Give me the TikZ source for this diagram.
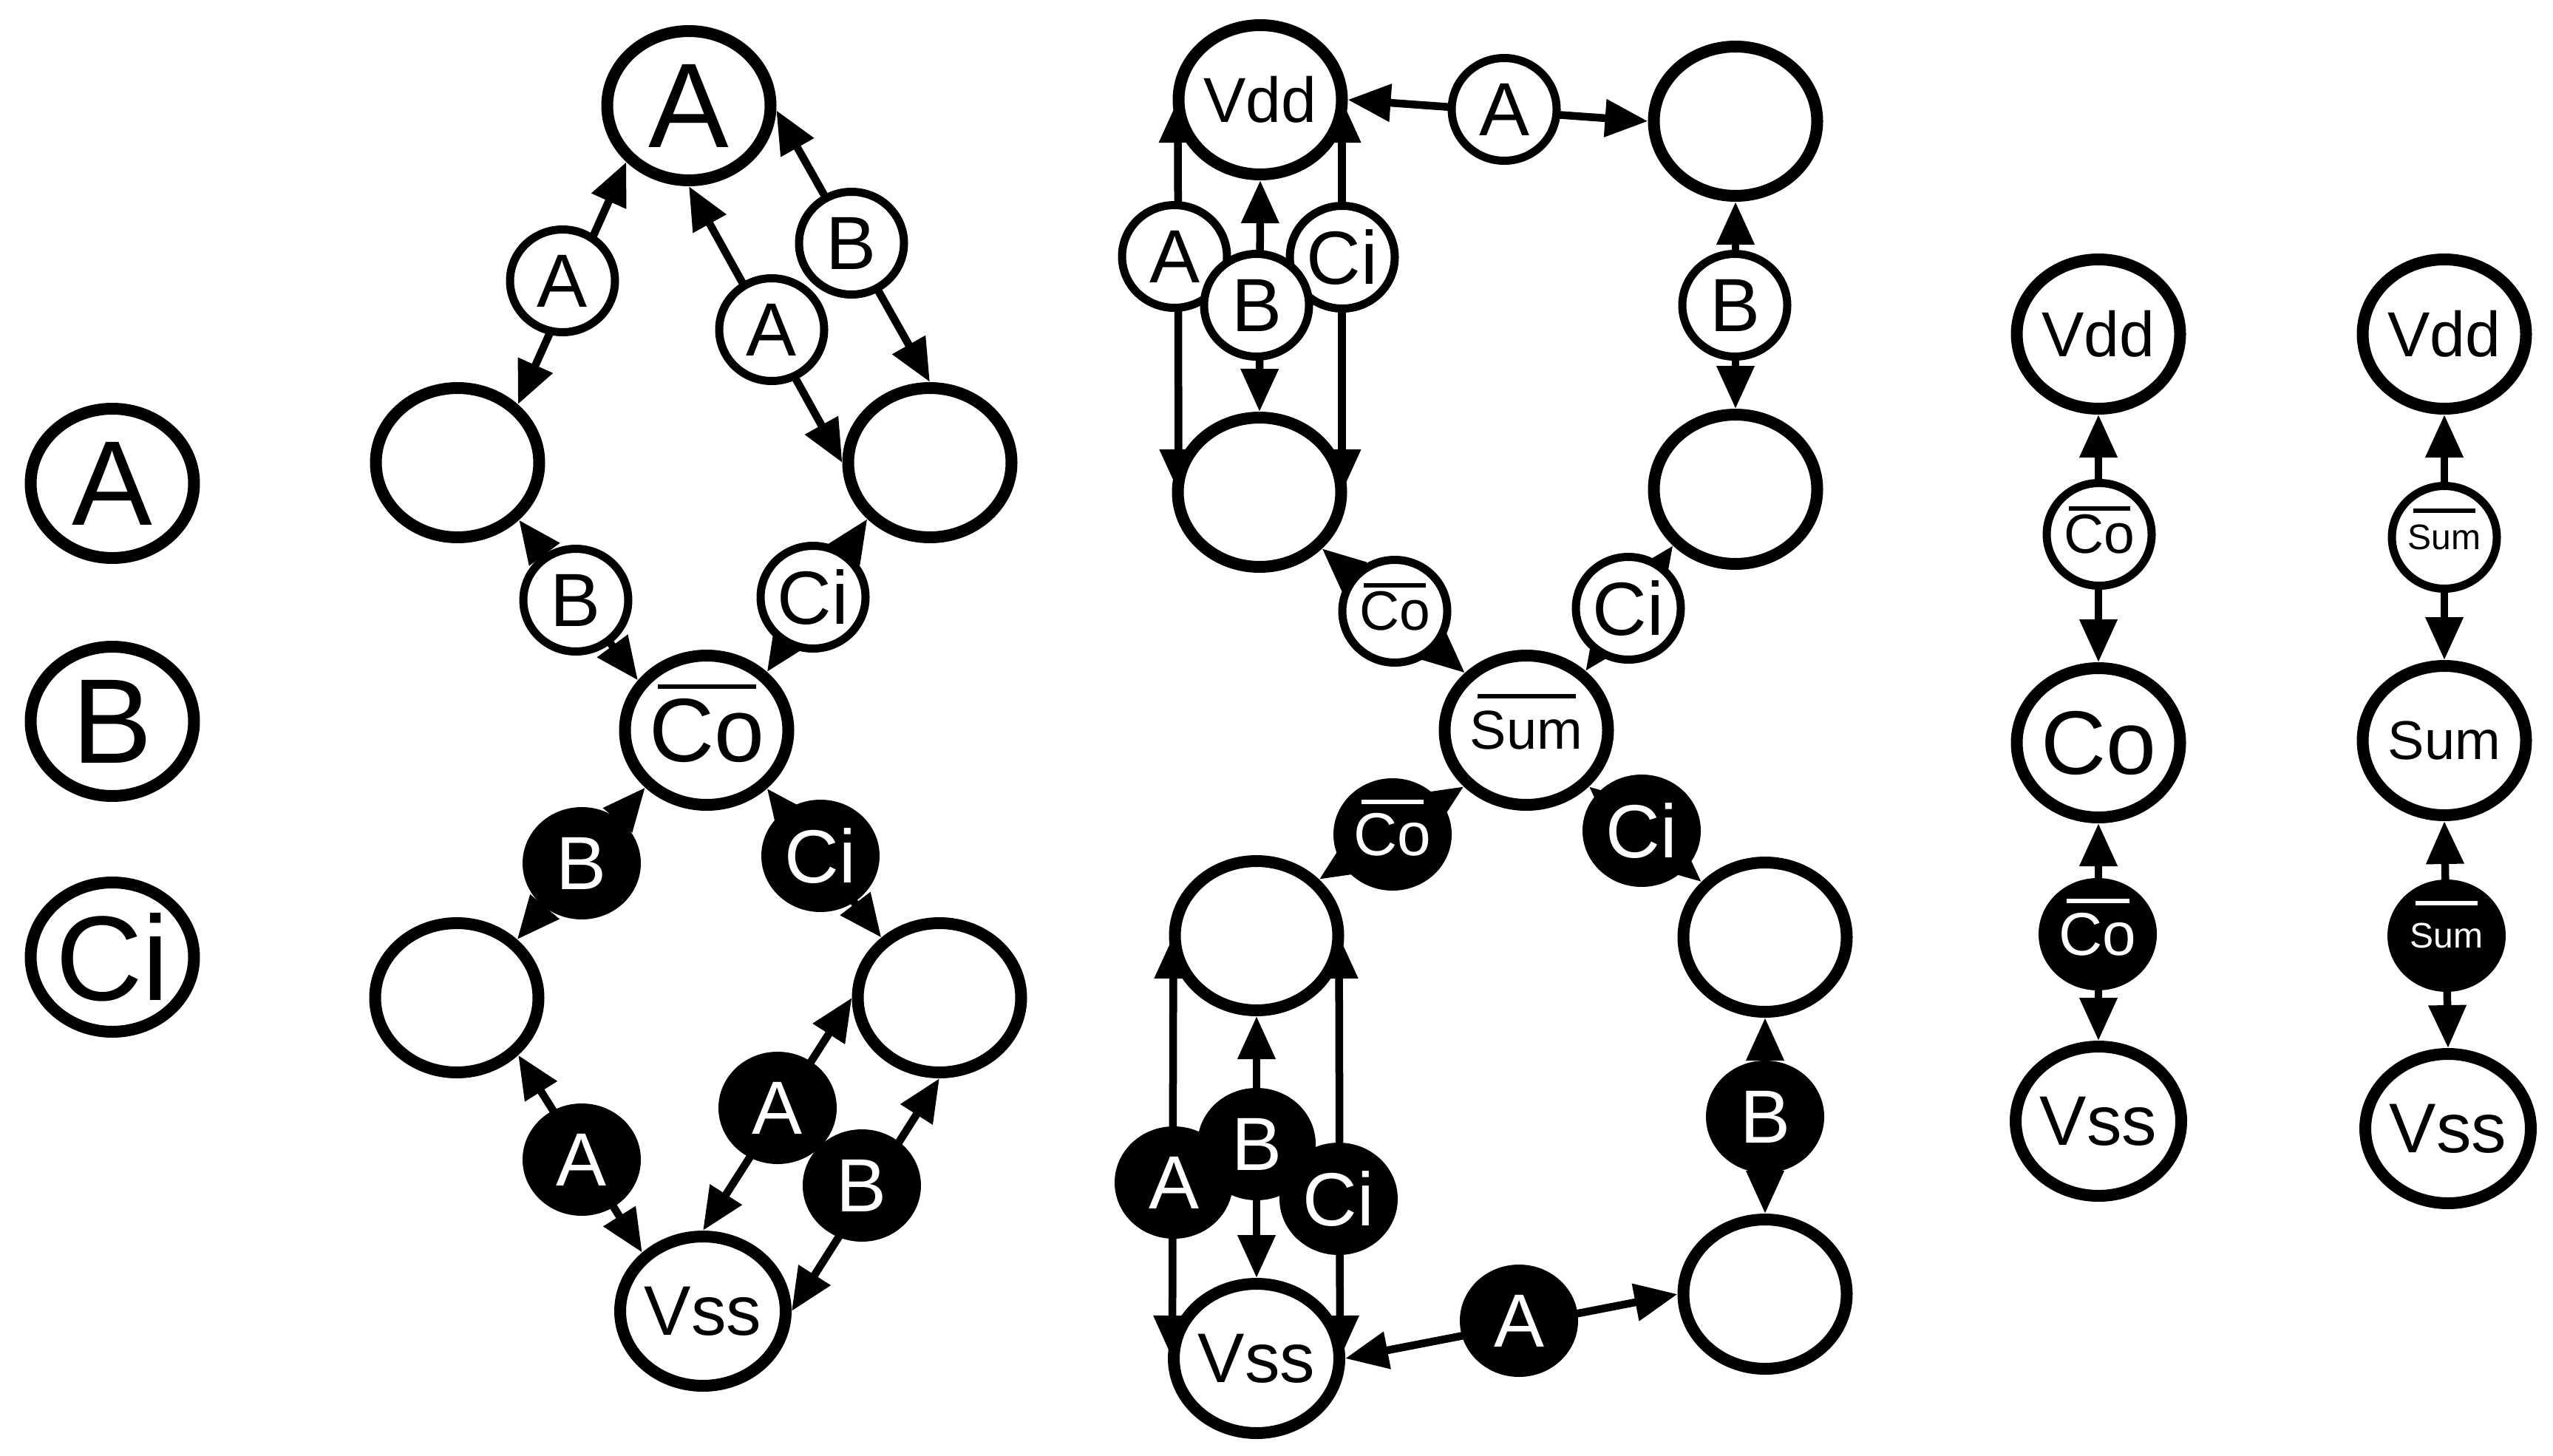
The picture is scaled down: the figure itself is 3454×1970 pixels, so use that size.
\documentclass[tikz,border=0pt]{standalone}
\usepackage{fontspec}
\setmainfont{Liberation Sans}
\usetikzlibrary{arrows.meta,shapes.geometric}
\pgfdeclarelayer{bg}
\pgfsetlayers{bg,main}
\newcommand\fsz[1]{\fontsize{#1}{#1}\selectfont}
\newsavebox\barbox
% raise, bar width, text
\newcommand\barred[3]{\sbox\barbox{#3}\rlap{\hbox to \wd\barbox{\hss\raisebox{#1}[0pt][0pt]{\rule{#2}{6pt}}\hss}}\usebox\barbox}
\tikzset{
  gate/.style={ellipse,draw=black,fill=white,line width=16pt,inner sep=0pt,minimum width=221pt,minimum height=202pt,font=\fsz{95}},
  wlabel/.style={ellipse,draw=black,fill=white,line width=11pt,inner sep=0pt,minimum width=142pt,minimum height=139pt,font=\fsz{102}},
  blabel/.style={ellipse,fill=black,draw=none,text=white,inner sep=0pt,minimum width=160pt,minimum height=152pt,font=\fsz{102}},
  conn/.style={line width=10.5pt,{Triangle[length=58pt,width=49pt]}-{Triangle[length=58pt,width=49pt]}},
}
\begin{document}
\begin{tikzpicture}[x=1pt,y=-1pt]
\useasboundingbox (0,0) rectangle (3454,1970);
% legend
\node[gate,font=\fsz{163}] (legA) at (152,654) {A};
\node[gate,font=\fsz{163}] (legB) at (152,976) {B};
\node[gate,font=\fsz{163}] (legC) at (152,1295) {Ci};
% left group: gates
\node[gate,font=\fsz{163}] (nA) at (932,143) {A};
\node[gate] (nL) at (619,626) {};
\node[gate] (nR) at (1258,626) {};
\node[gate,font=\fsz{122}] (nCo) at (956,988) {\barred{98pt}{133pt}{Co}};
\node[gate] (nLL) at (618,1350) {};
\node[gate] (nLR) at (1271,1350) {};
\node[gate] (nVss) at (951,1774) {Vss};
% left group: labels
\node[wlabel] (a1) at (761,380) {A};
\node[wlabel] (a2) at (1044,446) {A};
\node[wlabel] (b1) at (1152,329) {B};
\node[wlabel] (b2) at (779,812) {B};
\node[wlabel] (c1) at (1100,808) {Ci};
\node[blabel] (kb1) at (787,1168) {B};
\node[blabel] (kc1) at (1110,1158) {Ci};
\node[blabel] (ka1) at (787,1569) {A};
\node[blabel] (ka2) at (1052,1499) {A};
\node[blabel] (kb2) at (1166,1604) {B};
% middle group: gates
\node[gate,font=\fsz{86}] (mVdd) at (1705,135) {Vdd};
\node[gate] (mTR) at (2348,164) {};
\node[gate] (mL) at (1704,666) {};
\node[gate] (mR) at (2348,662) {};
\node[gate,font=\fsz{74}] (mSum) at (2065,988) {\barred{68pt}{133pt}{Sum}};
\node[gate] (mLL) at (1700,1266) {};
\node[gate] (mLR) at (2388,1268) {};
\node[gate] (mBR) at (2388,1751) {};
\node[gate] (mVss) at (1700,1838) {Vss};
% middle group: labels
\node[wlabel] (ma0) at (2035,148) {A};
\node[wlabel] (ma1) at (1589,347) {A};
\node[wlabel] (mc1) at (1816,348) {Ci};
\node[wlabel] (mb1) at (1700,413) {B};
\node[wlabel] (mb2) at (2347,413) {B};
\node[wlabel,font=\fsz{75}] (mco) at (1887,827) {\barred{58pt}{84pt}{Co}};
\node[wlabel] (mc2) at (2203,823) {Ci};
\node[blabel,font=\fsz{82}] (kmco) at (1884,1129) {\barred{69pt}{84pt}{Co}};
\node[blabel] (kmc) at (2221,1124) {Ci};
\node[blabel] (kmb) at (1700,1548) {B};
\node[blabel] (kma) at (1588,1600) {A};
\node[blabel] (kmc2) at (1811,1622) {Ci};
\node[blabel] (kmb2) at (2388,1511) {B};
\node[blabel] (kma2) at (2055,1787) {A};
% right columns
\node[gate,font=\fsz{86}] (r1Vdd) at (2839,452) {Vdd};
\node[wlabel,font=\fsz{75}] (r1w) at (2840,723) {\barred{58pt}{83pt}{Co}};
\node[gate,font=\fsz{122}] (r1Co) at (2839,1005) {Co};
\node[blabel,font=\fsz{82}] (r1k) at (2838,1264) {\barred{70pt}{85pt}{Co}};
\node[gate] (r1Vss) at (2839,1517) {Vss};
\node[gate,font=\fsz{86}] (r2Vdd) at (3307,452) {Vdd};
\node[wlabel,font=\fsz{48}] (r2w) at (3307,727) {\barred{50pt}{84pt}{Sum}};
\node[gate,font=\fsz{74}] (r2Sum) at (3307,1002) {Sum};
\node[blabel,font=\fsz{48}] (r2k) at (3310,1266) {\barred{58pt}{84pt}{Sum}};
\node[gate] (r2Vss) at (3312,1527) {Vss};
% connectors, behind every node
\begin{pgfonlayer}{bg}
\draw[conn] (nA.222.5) -- (nL.44);
\draw[conn] (nA.south) -- (nR.west);
\draw[conn] (nA.357) -- (nR.north);
\draw[conn] (nL.317) -- (nCo.144);
\draw[conn] (nR.222) -- (nCo.44);
\draw[conn] (nCo.223) -- (nLL.44);
\draw[conn] (nCo.316) -- (nLR.134);
\draw[conn] (nLL.317) -- (nVss.136);
\draw[conn] (nLR.west) -- (nVss.north);
\draw[conn] (nLR.south) -- (nVss.east);
\draw[conn] ([xshift=7pt]mVdd.west) -- ([xshift=9pt]mL.west);
\draw[conn] (mVdd.south) -- (mL.north);
\draw[conn] ([xshift=-8pt]mVdd.east) -- ([xshift=-7pt]mL.east);
\draw[conn] (mVdd.east) -- (mTR.west);
\draw[conn] (mTR.south) -- (mR.north);
\draw[conn] (mL.318) -- (mSum.137);
\draw[conn] (mR.222) -- (mSum.45);
\draw[conn] (mSum.222) -- (mLL.42);
\draw[conn] (mSum.318) -- (mLR.139);
\draw[conn] ([xshift=6pt]mLL.west) -- ([xshift=6pt]mVss.west);
\draw[conn] (mLL.south) -- (mVss.north);
\draw[conn] ([xshift=-7pt]mLL.east) -- ([xshift=-7pt]mVss.east);
\draw[conn] (mLR.south) -- (mBR.north);
\draw[conn] (mVss.east) -- (mBR.west);
\draw[conn] (r1Vdd.south) -- (r1Co.north);
\draw[conn] (r1Co.south) -- (r1Vss.north);
\draw[conn] (r2Vdd.south) -- (r2Sum.north);
\draw[conn] (r2Sum.south) -- (r2Vss.north);
\end{pgfonlayer}
\end{tikzpicture}
\end{document}
